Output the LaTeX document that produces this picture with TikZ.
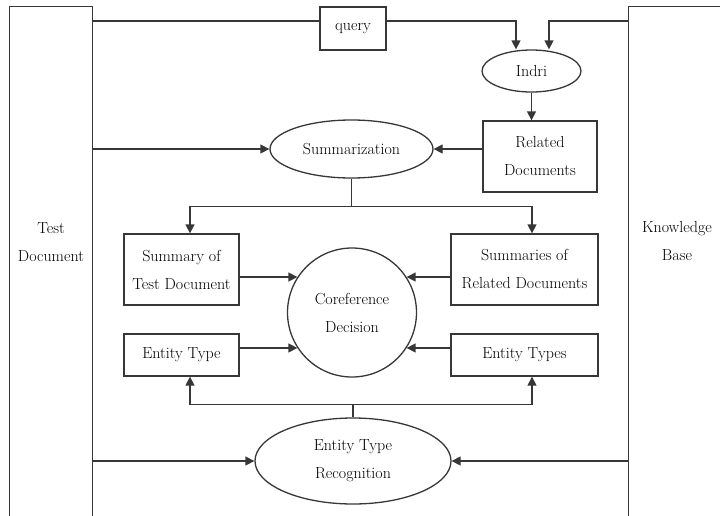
\documentclass[tikz,border=0pt]{standalone}
\usetikzlibrary{arrows.meta,shapes.geometric}
\definecolor{linegray}{RGB}{55,55,55}

\begin{document}
\begin{tikzpicture}[x=1pt,y=-1pt, line width=1.3pt, color=linegray, text=black,
    >={Triangle[length=9pt,width=9pt]},
    font=\fontsize{16}{28}\selectfont,
    blk/.style={draw, rectangle, inner sep=0pt, align=center},
    oval/.style={draw, ellipse, inner sep=0pt, align=center}]
    \useasboundingbox (0,0) rectangle (720,515);
    % the two sources at the sides
    \node[minimum width=82pt, minimum height=508pt] (test) at (51,261) {};
    \draw (test.south west) -- (test.north west) -- (test.north east) -- (test.south east);
    \node[align=center] (testlbl) at (51,242.5) {Test\\Document};
    \node[minimum width=96pt, minimum height=508pt] (kb) at (677,261) {};
    \draw (kb.south west) -- (kb.north west) -- (kb.north east);
    \node[align=center] (kblbl) at (677,241.5) {Knowledge\\Base};

    \node[blk, minimum width=66pt, minimum height=43pt] (query) at (353,28.5) {query};
    \node[oval, minimum width=99pt, minimum height=42pt] (indri) at (531.5,71) {Indri};
    \node[blk, minimum width=114pt, minimum height=71pt] (reldocs) at (540,156.5) {Related\\Documents};
    \node[oval, minimum width=163pt, minimum height=58pt] (summ) at (351.5,149) {Summarization};
    \node[blk, minimum width=115pt, minimum height=71pt] (sumtest) at (181.5,269.5) {Summary of\\Test Document};
    \node[blk, minimum width=147pt, minimum height=71pt] (sumrel) at (524.5,269.5) {Summaries of\\Related Documents};
    \node[draw, circle, inner sep=0pt, minimum size=129pt, align=center] (coref) at (352,312.5) {Coreference\\Decision};
    \node[blk, minimum width=115pt, minimum height=42pt] (etype) at (181.5,355) {Entity Type};
    \node[blk, minimum width=147pt, minimum height=42pt] (etypes) at (524.5,355) {Entity Types};
    \node[oval, minimum width=196pt, minimum height=86pt] (etr) at (353,461) {Entity Type\\Recognition};

    % retrieval
    \draw ([yshift=7.5pt]query.west -| test.east) -- ([yshift=7.5pt]query.west);
    \draw[->] ([yshift=7.5pt]query.east) -| ([xshift=-15.5pt]indri.north);
    \draw[->] ([yshift=7.5pt]query.east -| kb.west) -| ([xshift=17.5pt]indri.north);
    \draw[->] (indri.south) -- (indri.south |- reldocs.north);

    % summarization
    \draw[->] (test.east |- summ) -- (summ.west);
    \draw[->] (reldocs.west |- summ) -- (summ.east);
    \draw (summ.south) -- ++(0,28) coordinate (sj);
    \draw[->] (sj) -| ([xshift=8.5pt]sumtest.north);
    \draw[->] (sj) -| ([xshift=7.5pt]sumrel.north);

    % into the decision
    \draw[->] (sumtest.east |- coref.147) -- (coref.147);
    \draw[->] (etype.east |- coref.213) -- (coref.213);
    \draw[->] (sumrel.west |- coref.33) -- (coref.33);
    \draw[->] (etypes.west |- coref.327) -- (coref.327);

    % entity types
    \draw[->] (test.east |- etr) -- (etr.west);
    \draw[->] (kb.west |- etr) -- (etr.east);
    \draw (etr.north) -- ++(0,-13) coordinate (ej);
    \draw[->] (ej) -| ([xshift=8.5pt]etype.south);
    \draw[->] (ej) -| ([xshift=7.5pt]etypes.south);
\end{tikzpicture}
\end{document}
